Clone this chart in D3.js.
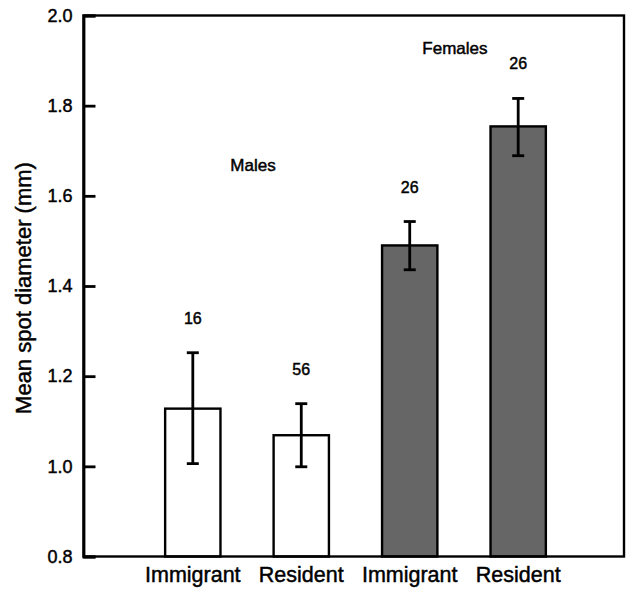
<!DOCTYPE html>
<html>
<head>
<meta charset="utf-8">
<script src="https://cdn.jsdelivr.net/npm/d3@7"></script>
<style>
  body { margin: 0; background: #fff; }
  text { font-family: "Liberation Sans", Arial, Helvetica, sans-serif; fill: #000; stroke: #000; stroke-width: 0.45px; }
</style>
</head>
<body>
<svg id="chart" width="627" height="591"></svg>
<script>
// bar data (mean spot diameter, mm)
const categories = ['Immigrant', 'Resident', 'Immigrant', 'Resident'];
const sexes = ['Males', 'Males', 'Females', 'Females'];
const means = [1.128, 1.069, 1.490, 1.754];
const errLow = [1.006, 0.999, 1.436, 1.689];
const errHigh = [1.252, 1.139, 1.543, 1.816];
const sampleSizes = [16, 56, 26, 26];
const yTicks = [0.8, 1.0, 1.2, 1.4, 1.6, 1.8, 2.0];

const svg = d3.select('#chart');

const plotLeft = 83.5, plotRight = 624, plotTop = 15.5, plotBottom = 556.5;

const y = d3.scaleLinear().domain([0.8, 2.0]).range([plotBottom, plotTop]);
const x = d3.scaleBand()
  .domain(d3.range(categories.length))
  .range([112, 599])
  .padding(0.49);

const fillFor = (i) => (sexes[i] === 'Males' ? '#fff' : '#666');

// bars
svg.append('g')
  .selectAll('rect')
  .data(means)
  .enter()
  .append('rect')
  .attr('x', (d, i) => x(i))
  .attr('width', x.bandwidth())
  .attr('y', (d) => y(d))
  .attr('height', (d) => y(0.8) - y(d))
  .attr('fill', (d, i) => fillFor(i))
  .attr('stroke', '#000')
  .attr('stroke-width', 2.4);

// error bars
const err = svg.append('g').attr('stroke', '#000').attr('stroke-width', 2.8);
means.forEach((d, i) => {
  const cx = x(i) + x.bandwidth() / 2;
  err.append('line')
    .attr('x1', cx).attr('x2', cx)
    .attr('y1', y(errLow[i])).attr('y2', y(errHigh[i]));
  [errLow[i], errHigh[i]].forEach((v) => {
    err.append('line')
      .attr('x1', cx - 6).attr('x2', cx + 6)
      .attr('y1', y(v)).attr('y2', y(v));
  });
});

// sample sizes
svg.append('g')
  .selectAll('text')
  .data(sampleSizes)
  .enter()
  .append('text')
  .attr('x', (d, i) => x(i) + x.bandwidth() / 2)
  .attr('y', (d, i) => y(errHigh[i]) - 29)
  .attr('text-anchor', 'middle')
  .style('font-size', '16px')
  .text((d) => d);

// group labels
svg.append('text')
  .attr('x', (x(0) + x(1) + x.bandwidth()) / 2 + 6)
  .attr('y', y(1.669) + 6)
  .attr('text-anchor', 'middle')
  .style('font-size', '17px')
  .text('Males');

svg.append('text')
  .attr('x', (x(2) + x(3) + x.bandwidth()) / 2 - 9)
  .attr('y', y(1.929) + 6)
  .attr('text-anchor', 'middle')
  .style('font-size', '17px')
  .text('Females');

// frame
svg.append('rect')
  .attr('x', plotLeft)
  .attr('y', plotTop)
  .attr('width', plotRight - plotLeft)
  .attr('height', plotBottom - plotTop)
  .attr('fill', 'none')
  .attr('stroke', '#000')
  .attr('stroke-width', 2.4);

// y axis with inward ticks
const yAxis = svg.append('g')
  .attr('transform', `translate(${plotLeft},0)`)
  .call(d3.axisLeft(y).tickValues(yTicks).tickFormat(d3.format('.1f')).tickSize(-12).tickPadding(11));
yAxis.select('.domain').attr('stroke-width', 2.8);
yAxis.selectAll('.tick line').attr('stroke-width', 2.8);
yAxis.selectAll('.tick text')
  .style('font-size', '18px')
  .style('font-family', '"Liberation Sans", Arial, sans-serif')
  .attr('fill', '#000');

// x category labels
svg.append('g')
  .selectAll('text')
  .data(categories)
  .enter()
  .append('text')
  .attr('x', (d, i) => x(i) + x.bandwidth() / 2)
  .attr('y', 582)
  .attr('text-anchor', 'middle')
  .style('font-size', '21.5px')
  .text((d) => d);

// y axis title
svg.append('text')
  .attr('transform', 'translate(31, 288) rotate(-90)')
  .attr('text-anchor', 'middle')
  .style('font-size', '22px')
  .text('Mean spot diameter (mm)');
</script>
</body>
</html>
